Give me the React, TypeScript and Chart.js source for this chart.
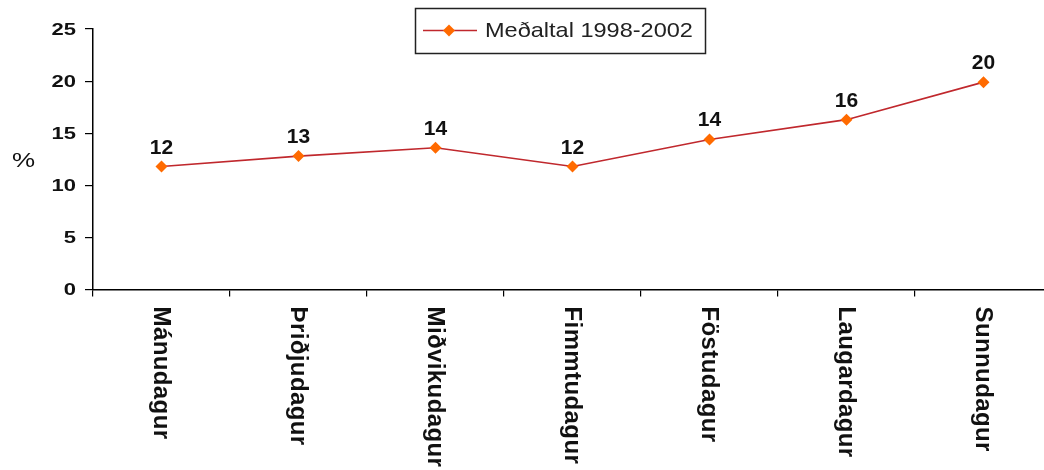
import React, { useEffect, useRef } from "react";
import { Chart, registerables } from "chart.js";

Chart.register(...registerables);

const categories = [
  "Mánudagur",
  "Þriðjudagur",
  "Miðvikudagur",
  "Fimmtudagur",
  "Föstudagur",
  "Laugardagur",
  "Sunnudagur",
];
const seriesName = "Meðaltal 1998-2002";
const values = [11.8, 12.8, 13.6, 11.8, 14.4, 16.3, 19.9];
const yTicks = [0, 5, 10, 15, 20, 25];
const yAxisLabel = "%";

const LINE_COLOR = "#C0282D";
const MARKER_COLOR = "#FF6A00";
const FONT = "'Liberation Sans', Arial, sans-serif";

const customDraw = {
  id: "customDraw",
  afterDraw(chart: any) {
    const ctx = chart.ctx as CanvasRenderingContext2D;
    const area = chart.chartArea;
    const xs = chart.scales.x;
    const ys = chart.scales.y;
    const meta = chart.getDatasetMeta(0);

    // y tick labels
    ctx.save();
    ctx.fillStyle = "#111";
    ctx.font = `bold 22px ${FONT}`;
    ctx.textAlign = "right";
    ctx.textBaseline = "middle";
    yTicks.forEach((v) => {
      const y = ys.getPixelForValue(v);
      ctx.save();
      ctx.translate(76, y + 1);
      ctx.scale(1, 0.78);
      ctx.fillText(String(v), 0, 0);
      ctx.restore();
    });
    ctx.restore();

    // data labels
    ctx.save();
    ctx.fillStyle = "#111";
    ctx.font = `bold 21px ${FONT}`;
    ctx.textAlign = "center";
    ctx.textBaseline = "alphabetic";
    meta.data.forEach((pt: any, i: number) => {
      ctx.fillText(String(Math.round(values[i])), pt.x, pt.y - 13);
    });
    ctx.restore();

    // x category labels, rotated clockwise
    ctx.save();
    ctx.fillStyle = "#111";
    ctx.font = `bold 24px ${FONT}`;
    (ctx as any).letterSpacing = "0.4px";
    ctx.textAlign = "left";
    ctx.textBaseline = "middle";
    categories.forEach((c, i) => {
      const x = xs.getPixelForValue(i);
      ctx.save();
      ctx.translate(x - 1, area.bottom + 17);
      ctx.rotate(Math.PI / 2);
      ctx.fillText(c, 0, 0);
      ctx.restore();
    });
    ctx.restore();

    // y axis label
    ctx.save();
    ctx.fillStyle = "#111";
    ctx.font = `26px ${FONT}`;
    ctx.textAlign = "center";
    ctx.textBaseline = "middle";
    ctx.translate(23.5, 161);
    ctx.scale(1, 0.8);
    ctx.fillText(yAxisLabel, 0, 0);
    ctx.restore();

    // legend
    ctx.save();
    ctx.strokeStyle = "#222";
    ctx.lineWidth = 1.5;
    ctx.fillStyle = "#fff";
    ctx.fillRect(415, 8, 290, 45);
    ctx.strokeRect(415.5, 8.5, 290, 45);
    ctx.strokeStyle = LINE_COLOR;
    ctx.lineWidth = 1.5;
    ctx.beginPath();
    ctx.moveTo(423, 30.5);
    ctx.lineTo(477, 30.5);
    ctx.stroke();
    ctx.fillStyle = MARKER_COLOR;
    ctx.beginPath();
    ctx.moveTo(449, 24.5);
    ctx.lineTo(455, 30.5);
    ctx.lineTo(449, 36.5);
    ctx.lineTo(443, 30.5);
    ctx.closePath();
    ctx.fill();
    ctx.fillStyle = "#222";
    ctx.font = `21px ${FONT}`;
    ctx.textAlign = "left";
    ctx.textBaseline = "middle";
    ctx.translate(485, 31);
    ctx.scale(1.12, 1);
    ctx.fillText(seriesName, 0, 0);
    ctx.restore();
  },
};

export default function App() {
  const ref = useRef<HTMLCanvasElement | null>(null);

  useEffect(() => {
    if (!ref.current) return;
    const chart = new Chart(ref.current, {
      type: "line",
      data: {
        labels: categories,
        datasets: [
          {
            label: seriesName,
            data: values,
            borderColor: LINE_COLOR,
            borderWidth: 1.6,
            backgroundColor: MARKER_COLOR,
            pointStyle: "rectRot",
            pointRadius: 6,
            pointBackgroundColor: MARKER_COLOR,
            pointBorderColor: MARKER_COLOR,
            pointBorderWidth: 0,
            tension: 0,
            fill: false,
          },
        ],
      },
      options: {
        responsive: false,
        animation: false,
        layout: { padding: { top: 29, right: 8, left: 0, bottom: 0 } },
        plugins: {
          legend: { display: false },
          tooltip: { enabled: false },
        },
        scales: {
          x: {
            type: "category",
            offset: true,
            grid: {
              display: true,
              offset: true,
              drawOnChartArea: false,
              drawTicks: true,
              tickLength: 7,
              color: "#000",
              lineWidth: 1.2,
            },
            border: { display: true, color: "#000", width: 1.5 },
            ticks: { display: false },
            afterFit(scale: any) {
              scale.height = 180.5;
            },
          },
          y: {
            min: 0,
            max: 25,
            afterBuildTicks(scale: any) {
              scale.ticks = yTicks.map((v) => ({ value: v }));
            },
            grid: {
              display: true,
              drawOnChartArea: false,
              drawTicks: true,
              tickLength: 8,
              color: "#000",
              lineWidth: 1.2,
            },
            border: { display: true, color: "#000", width: 1.5 },
            ticks: { display: false },
            afterFit(scale: any) {
              scale.width = 93;
            },
          },
        },
      },
      plugins: [customDraw],
    });
    return () => chart.destroy();
  }, []);

  return (
    <div
      style={{
        position: "fixed",
        left: 0,
        top: 0,
        width: 1044,
        height: 470,
        overflow: "hidden",
        background: "#fff",
      }}
    >
      <canvas ref={ref} width={1060} height={470} style={{ display: "block" }} />
    </div>
  );
}
